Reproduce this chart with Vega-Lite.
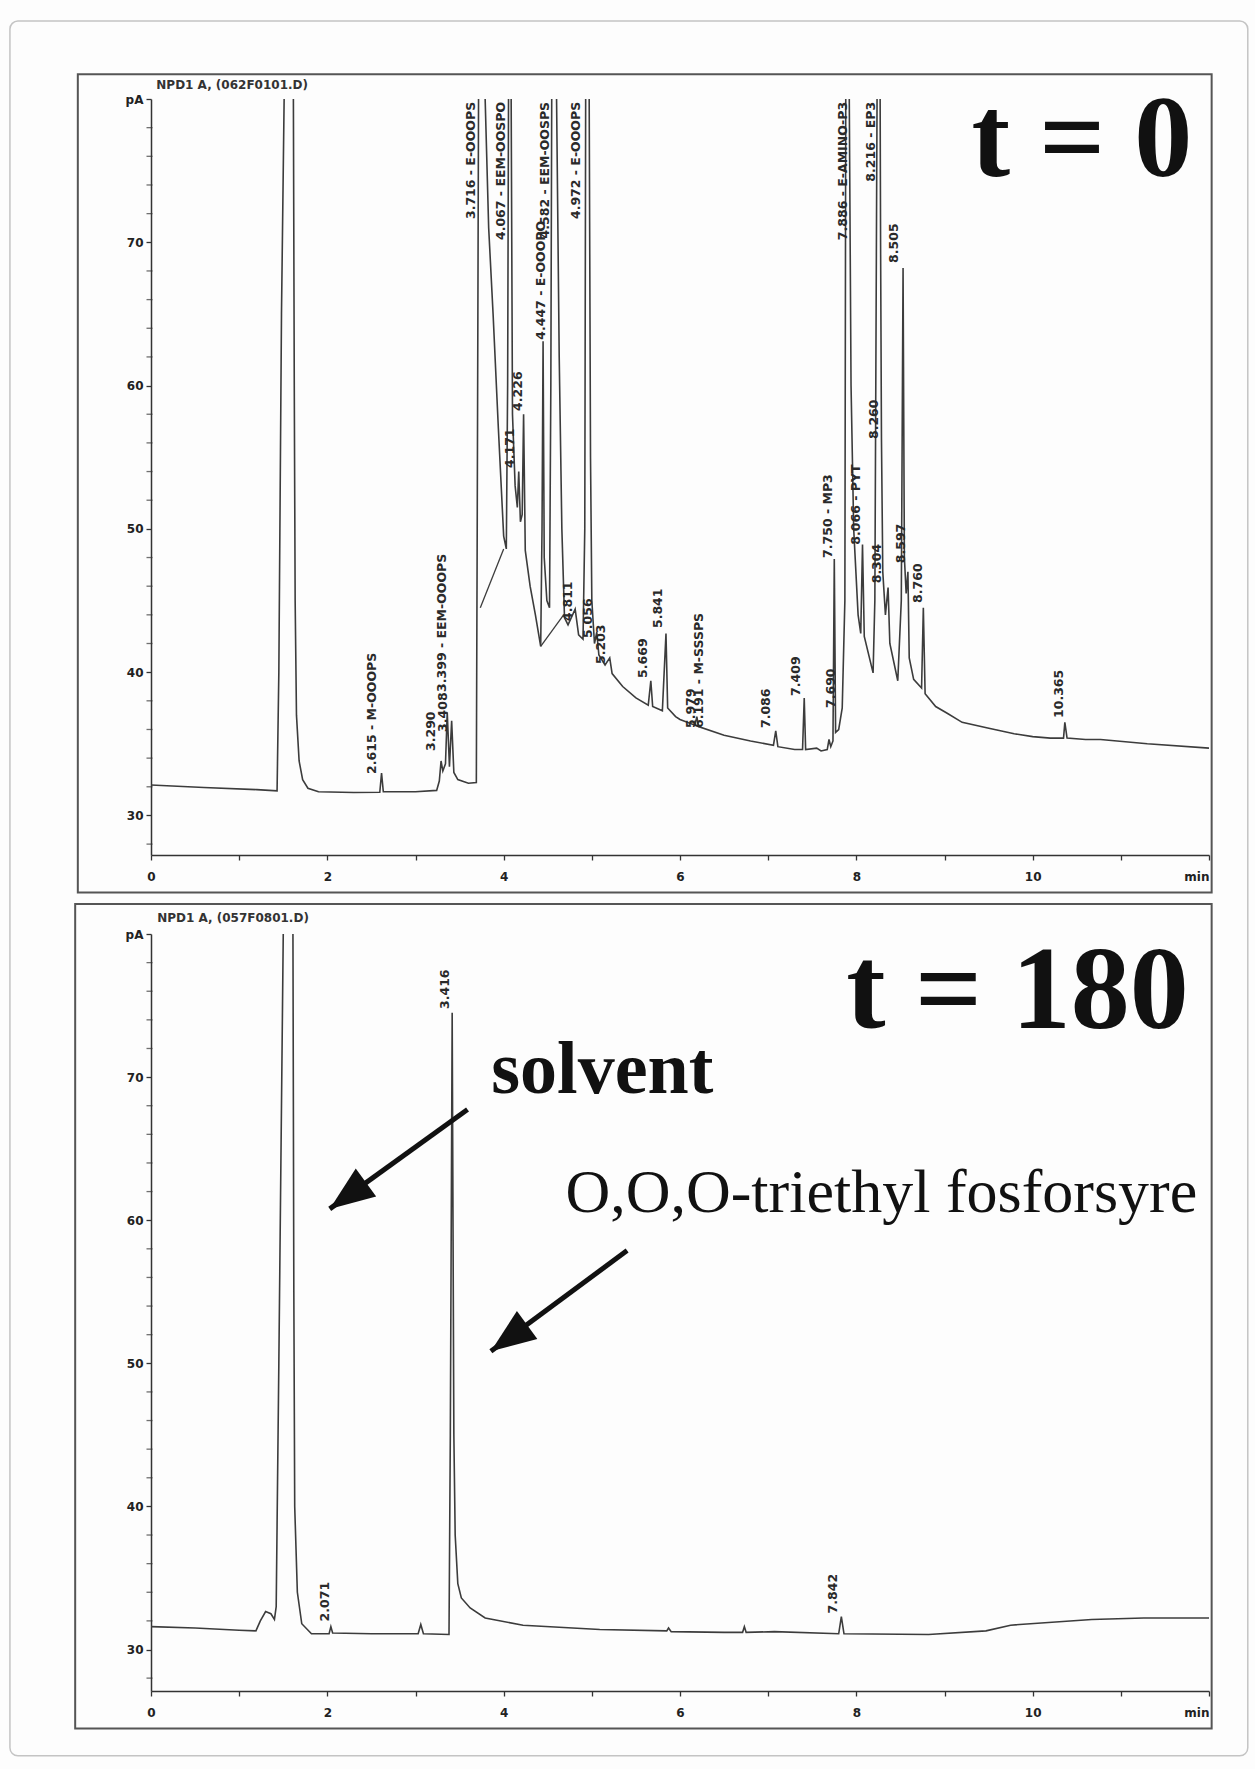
{
  "$schema": "https://vega.github.io/schema/vega-lite/v6.json",
  "background": "#fdfdfd",
  "padding": {"left": 9, "top": 20, "right": 8, "bottom": 12},
  "spacing": 79,
  "bounds": "flush",
  "datasets": {
    "one": [{}],
    "minorY": [{"m": 28}, {"m": 32}, {"m": 34}, {"m": 36}, {"m": 38}, {"m": 42}, {"m": 44}, {"m": 46}, {"m": 48}, {"m": 52}, {"m": 54}, {"m": 56}, {"m": 58}, {"m": 62}, {"m": 64}, {"m": 66}, {"m": 68}, {"m": 72}, {"m": 74}, {"m": 76}, {"m": 78}],
    "t0": [
      {"t": 0, "v": 32.13}, {"t": 0.6, "v": 31.95}, {"t": 1.2, "v": 31.8}, {"t": 1.43, "v": 31.72},
      {"t": 1.45, "v": 40}, {"t": 1.48, "v": 65}, {"t": 1.51, "v": 80}, {"t": 1.56, "v": 92},
      {"t": 1.615, "v": 80}, {"t": 1.625, "v": 60}, {"t": 1.635, "v": 45}, {"t": 1.65, "v": 37},
      {"t": 1.68, "v": 33.8}, {"t": 1.72, "v": 32.5}, {"t": 1.78, "v": 31.9}, {"t": 1.9, "v": 31.65},
      {"t": 2.3, "v": 31.6}, {"t": 2.595, "v": 31.62}, {"t": 2.615, "v": 32.95}, {"t": 2.635, "v": 31.65},
      {"t": 3.0, "v": 31.65}, {"t": 3.24, "v": 31.75}, {"t": 3.27, "v": 32.4}, {"t": 3.29, "v": 33.8},
      {"t": 3.31, "v": 33.1}, {"t": 3.34, "v": 33.6}, {"t": 3.36, "v": 37.2}, {"t": 3.385, "v": 33.4},
      {"t": 3.41, "v": 36.6}, {"t": 3.435, "v": 33.0}, {"t": 3.48, "v": 32.5}, {"t": 3.6, "v": 32.25},
      {"t": 3.69, "v": 32.3}, {"t": 3.7, "v": 50}, {"t": 3.715, "v": 80}, {"t": 3.75, "v": 95},
      {"t": 3.79, "v": 80}, {"t": 3.83, "v": 71}, {"t": 3.88, "v": 65}, {"t": 3.94, "v": 57},
      {"t": 4.0, "v": 49.5}, {"t": 4.03, "v": 48.6}, {"t": 4.045, "v": 60}, {"t": 4.055, "v": 80},
      {"t": 4.07, "v": 95}, {"t": 4.085, "v": 80}, {"t": 4.1, "v": 58}, {"t": 4.13, "v": 53},
      {"t": 4.155, "v": 51.5}, {"t": 4.171, "v": 54.0}, {"t": 4.19, "v": 50.5}, {"t": 4.21, "v": 51},
      {"t": 4.226, "v": 58.0}, {"t": 4.245, "v": 48.5}, {"t": 4.3, "v": 46}, {"t": 4.36, "v": 44},
      {"t": 4.42, "v": 41.8}, {"t": 4.435, "v": 50}, {"t": 4.447, "v": 63.1}, {"t": 4.46, "v": 48},
      {"t": 4.49, "v": 45}, {"t": 4.52, "v": 44.5}, {"t": 4.535, "v": 60}, {"t": 4.545, "v": 80},
      {"t": 4.58, "v": 95}, {"t": 4.6, "v": 80}, {"t": 4.63, "v": 62}, {"t": 4.66, "v": 50},
      {"t": 4.69, "v": 43.8}, {"t": 4.73, "v": 43.3}, {"t": 4.811, "v": 44.4}, {"t": 4.85, "v": 42.6},
      {"t": 4.9, "v": 42.3}, {"t": 4.92, "v": 50}, {"t": 4.93, "v": 80}, {"t": 4.95, "v": 95},
      {"t": 4.97, "v": 80}, {"t": 4.985, "v": 55}, {"t": 5.0, "v": 45}, {"t": 5.03, "v": 42.0},
      {"t": 5.056, "v": 42.8}, {"t": 5.08, "v": 41.2}, {"t": 5.15, "v": 40.5}, {"t": 5.203, "v": 41.0},
      {"t": 5.23, "v": 39.9}, {"t": 5.35, "v": 39.0}, {"t": 5.5, "v": 38.2}, {"t": 5.64, "v": 37.7},
      {"t": 5.669, "v": 39.4}, {"t": 5.69, "v": 37.6}, {"t": 5.8, "v": 37.3}, {"t": 5.841, "v": 42.7},
      {"t": 5.86, "v": 37.5}, {"t": 5.95, "v": 36.9}, {"t": 6.0, "v": 36.7}, {"t": 6.17, "v": 36.3},
      {"t": 6.191, "v": 36.9}, {"t": 6.21, "v": 36.2}, {"t": 6.5, "v": 35.6}, {"t": 6.8, "v": 35.2},
      {"t": 7.06, "v": 34.9}, {"t": 7.086, "v": 35.9}, {"t": 7.11, "v": 34.8}, {"t": 7.3, "v": 34.6},
      {"t": 7.39, "v": 34.6}, {"t": 7.409, "v": 38.2}, {"t": 7.425, "v": 34.6}, {"t": 7.55, "v": 34.7},
      {"t": 7.6, "v": 34.5}, {"t": 7.67, "v": 34.6}, {"t": 7.69, "v": 35.3}, {"t": 7.71, "v": 34.8},
      {"t": 7.735, "v": 35.2}, {"t": 7.75, "v": 47.9}, {"t": 7.765, "v": 35.8}, {"t": 7.8, "v": 36.0},
      {"t": 7.84, "v": 37.5}, {"t": 7.87, "v": 45}, {"t": 7.88, "v": 80}, {"t": 7.9, "v": 95},
      {"t": 7.92, "v": 80}, {"t": 7.94, "v": 60}, {"t": 7.97, "v": 50}, {"t": 8.02, "v": 44},
      {"t": 8.05, "v": 42.7}, {"t": 8.07, "v": 48.9}, {"t": 8.09, "v": 42.5}, {"t": 8.19, "v": 39.95},
      {"t": 8.21, "v": 45}, {"t": 8.235, "v": 80}, {"t": 8.25, "v": 95}, {"t": 8.27, "v": 80},
      {"t": 8.275, "v": 70}, {"t": 8.285, "v": 56.3}, {"t": 8.3, "v": 47}, {"t": 8.33, "v": 44},
      {"t": 8.36, "v": 45.9}, {"t": 8.38, "v": 42}, {"t": 8.47, "v": 39.4}, {"t": 8.51, "v": 45},
      {"t": 8.53, "v": 68.2}, {"t": 8.545, "v": 48}, {"t": 8.565, "v": 45.5}, {"t": 8.585, "v": 47.0},
      {"t": 8.6, "v": 41}, {"t": 8.65, "v": 39.5}, {"t": 8.74, "v": 38.9}, {"t": 8.76, "v": 44.5},
      {"t": 8.78, "v": 38.5}, {"t": 8.9, "v": 37.6}, {"t": 9.04, "v": 37.1}, {"t": 9.2, "v": 36.5},
      {"t": 9.49, "v": 36.1}, {"t": 9.79, "v": 35.7}, {"t": 10.0, "v": 35.5}, {"t": 10.2, "v": 35.4},
      {"t": 10.35, "v": 35.4}, {"t": 10.365, "v": 36.5}, {"t": 10.39, "v": 35.4}, {"t": 10.6, "v": 35.3},
      {"t": 10.77, "v": 35.3}, {"t": 11.3, "v": 35.0}, {"t": 12.0, "v": 34.7}
    ],
    "t0base": [
      {"t1": 3.735, "v1": 44.5, "t2": 4.0, "v2": 48.6},
      {"t1": 4.42, "v1": 41.8, "t2": 4.68, "v2": 44.0}
    ],
    "t0lab": [
      {"lx": 2.507, "ly": 32.9, "lab": "2.615 - M-OOOPS", "pos": "up"},
      {"lx": 3.176, "ly": 34.5, "lab": "3.290", "pos": "up"},
      {"lx": 3.312, "ly": 35.83, "lab": "3.408", "pos": "up"},
      {"lx": 3.3, "ly": 38.62, "lab": "3.399 - EEM-OOOPS", "pos": "up"},
      {"lx": 3.63, "ly": 79.8, "lab": "3.716 - E-OOOPS", "pos": "top"},
      {"lx": 3.97, "ly": 79.8, "lab": "4.067 - EEM-OOSPO", "pos": "top"},
      {"lx": 4.42, "ly": 63.2, "lab": "4.447 - E-OOOPO", "pos": "up"},
      {"lx": 4.47, "ly": 79.8, "lab": "4.582 - EEM-OOSPS", "pos": "top"},
      {"lx": 4.82, "ly": 79.8, "lab": "4.972 - E-OOOPS", "pos": "top"},
      {"lx": 4.07, "ly": 54.25, "lab": "4.171", "pos": "up"},
      {"lx": 4.16, "ly": 58.23, "lab": "4.226", "pos": "up"},
      {"lx": 4.73, "ly": 43.57, "lab": "4.811", "pos": "up"},
      {"lx": 4.96, "ly": 42.39, "lab": "5.056", "pos": "up"},
      {"lx": 5.1, "ly": 40.57, "lab": "5.203", "pos": "up"},
      {"lx": 5.58, "ly": 39.6, "lab": "5.669", "pos": "up"},
      {"lx": 5.75, "ly": 43.08, "lab": "5.841", "pos": "up"},
      {"lx": 6.13, "ly": 36.1, "lab": "5.979", "pos": "up"},
      {"lx": 6.21, "ly": 36.1, "lab": "6.191 - M-SSSPS", "pos": "up"},
      {"lx": 6.97, "ly": 36.1, "lab": "7.086", "pos": "up"},
      {"lx": 7.32, "ly": 38.34, "lab": "7.409", "pos": "up"},
      {"lx": 7.71, "ly": 37.5, "lab": "7.690", "pos": "up"},
      {"lx": 7.68, "ly": 47.97, "lab": "7.750 - MP3", "pos": "up"},
      {"lx": 7.85, "ly": 79.8, "lab": "7.886 - E-AMINO-P3", "pos": "top"},
      {"lx": 8.17, "ly": 79.8, "lab": "8.216 - EP3", "pos": "top"},
      {"lx": 8.43, "ly": 68.56, "lab": "8.505", "pos": "up"},
      {"lx": 8.2, "ly": 56.27, "lab": "8.260", "pos": "up"},
      {"lx": 8.0, "ly": 48.9, "lab": "8.066 - PYT", "pos": "up"},
      {"lx": 8.24, "ly": 46.2, "lab": "8.304", "pos": "up"},
      {"lx": 8.51, "ly": 47.6, "lab": "8.597", "pos": "up"},
      {"lx": 8.7, "ly": 44.83, "lab": "8.760", "pos": "up"},
      {"lx": 10.3, "ly": 36.8, "lab": "10.365", "pos": "up"}
    ],
    "t180": [
      {"t": 0, "v": 31.6}, {"t": 0.5, "v": 31.5}, {"t": 1.0, "v": 31.35}, {"t": 1.19, "v": 31.3},
      {"t": 1.24, "v": 32.0}, {"t": 1.3, "v": 32.65}, {"t": 1.36, "v": 32.5}, {"t": 1.4, "v": 32.1},
      {"t": 1.42, "v": 33}, {"t": 1.45, "v": 50}, {"t": 1.5, "v": 80}, {"t": 1.555, "v": 92},
      {"t": 1.61, "v": 80}, {"t": 1.62, "v": 55}, {"t": 1.63, "v": 40}, {"t": 1.66, "v": 34},
      {"t": 1.71, "v": 31.8}, {"t": 1.82, "v": 31.1}, {"t": 2.02, "v": 31.1}, {"t": 2.04, "v": 31.6},
      {"t": 2.06, "v": 31.15}, {"t": 2.5, "v": 31.1}, {"t": 3.03, "v": 31.1}, {"t": 3.06, "v": 31.75},
      {"t": 3.09, "v": 31.1}, {"t": 3.38, "v": 31.05}, {"t": 3.395, "v": 45}, {"t": 3.416, "v": 74.5},
      {"t": 3.435, "v": 45}, {"t": 3.45, "v": 38}, {"t": 3.48, "v": 34.6}, {"t": 3.52, "v": 33.6},
      {"t": 3.62, "v": 32.9}, {"t": 3.79, "v": 32.2}, {"t": 4.22, "v": 31.7}, {"t": 5.09, "v": 31.4},
      {"t": 5.85, "v": 31.3}, {"t": 5.87, "v": 31.5}, {"t": 5.9, "v": 31.25}, {"t": 6.5, "v": 31.2},
      {"t": 6.71, "v": 31.2}, {"t": 6.73, "v": 31.6}, {"t": 6.75, "v": 31.2}, {"t": 7.07, "v": 31.25},
      {"t": 7.8, "v": 31.1}, {"t": 7.83, "v": 32.3}, {"t": 7.86, "v": 31.1}, {"t": 8.82, "v": 31.05},
      {"t": 9.47, "v": 31.3}, {"t": 9.75, "v": 31.7}, {"t": 10.67, "v": 32.1}, {"t": 11.26, "v": 32.2},
      {"t": 12.0, "v": 32.2}
    ],
    "t180lab": [
      {"lx": 3.33, "ly": 74.76, "lab": "3.416"},
      {"lx": 1.97, "ly": 31.96, "lab": "2.071"},
      {"lx": 7.74, "ly": 32.52, "lab": "7.842"}
    ],
    "arrows": [
      {"name": "solvent", "x1": 3.59, "y1": 67.74, "x2": 2.027, "y2": 60.79},
      {"name": "O,O,O-triethyl fosforsyre", "x1": 5.4, "y1": 57.88, "x2": 3.855, "y2": 50.84}
    ]
  },
  "vconcat": [
    {
      "width": 1058,
      "height": 756,
      "layer": [
        {
          "data": {"name": "one"},
          "mark": {"type": "rect", "fillOpacity": 0, "stroke": "#c4c4c4", "strokeWidth": 1.5, "cornerRadius": 8},
          "encoding": {
            "x": {"datum": -1.6, "type": "quantitative"},
            "x2": {"datum": 12.44},
            "y": {"datum": 85.44, "type": "quantitative"},
            "y2": {"datum": -35.63}
          }
        },
        {
          "data": {"name": "one"},
          "mark": {"type": "rect", "fillOpacity": 0, "stroke": "#555", "strokeWidth": 2},
          "encoding": {
            "x": {"datum": -0.83, "type": "quantitative"},
            "x2": {"datum": 12.03},
            "y": {"datum": 81.72, "type": "quantitative"},
            "y2": {"datum": 24.63}
          }
        },
        {
          "data": {"name": "one"},
          "mark": {"type": "text", "align": "left", "baseline": "middle", "font": "DejaVu Sans", "fontWeight": "bold", "fontSize": 12, "color": "#333"},
          "encoding": {
            "x": {"datum": 0.06, "type": "quantitative"},
            "y": {"datum": 80.98, "type": "quantitative"},
            "text": {"value": "NPD1 A, (062F0101.D)"}
          }
        },
        {
          "data": {"name": "t0"},
          "mark": {"type": "line", "clip": true, "color": "#3c3c3c", "strokeWidth": 1.6},
          "encoding": {
            "x": {"field": "t", "type": "quantitative", "title": null,
              "scale": {"domain": [0, 12], "nice": false, "zero": false},
              "axis": {"values": [0,0.5,1,1.5,2,2.5,3,3.5,4,4.5,5,5.5,6,6.5,7,7.5,8,8.5,9,9.5,10,10.5,11,11.5,12],
                "format": "d", "labelOverlap": false,
                "labelExpr": "datum.value == 12 ? 'min' : (datum.value % 2 == 0 ? datum.label : '')",
                "labelAlign": {"expr": "datum.value == 12 ? 'right' : 'center'"}}},
            "y": {"field": "v", "type": "quantitative", "title": null,
              "scale": {"domain": [27.24, 80], "nice": false, "zero": false},
              "axis": {"values": [30, 40, 50, 60, 70, 80], "format": "d", "labelOverlap": false,
                "labelExpr": "datum.value == 80 ? 'pA' : datum.label"}}
          }
        },
        {
          "data": {"name": "minorY"},
          "mark": {"type": "tick", "orient": "horizontal", "size": 6, "thickness": 1.3, "color": "#333", "xOffset": -1.5},
          "encoding": {
            "x": {"datum": 0, "type": "quantitative"},
            "y": {"field": "m", "type": "quantitative", "title": null}
          }
        },
        {
          "data": {"name": "t0base"},
          "mark": {"type": "rule", "color": "#3c3c3c", "strokeWidth": 1.3},
          "encoding": {
            "x": {"field": "t1", "type": "quantitative", "title": null},
            "y": {"field": "v1", "type": "quantitative", "title": null},
            "x2": {"field": "t2"},
            "y2": {"field": "v2"}
          }
        },
        {
          "data": {"name": "t0lab"},
          "transform": [{"filter": "datum.pos == 'up'"}],
          "mark": {"type": "text", "angle": 270, "align": "left", "baseline": "middle", "font": "DejaVu Sans", "fontWeight": "bold", "fontSize": 12.5, "color": "#2a2a2a"},
          "encoding": {
            "x": {"field": "lx", "type": "quantitative", "title": null},
            "y": {"field": "ly", "type": "quantitative", "title": null},
            "text": {"field": "lab"}
          }
        },
        {
          "data": {"name": "t0lab"},
          "transform": [{"filter": "datum.pos == 'top'"}],
          "mark": {"type": "text", "angle": 270, "align": "right", "baseline": "middle", "font": "DejaVu Sans", "fontWeight": "bold", "fontSize": 12.5, "color": "#2a2a2a"},
          "encoding": {
            "x": {"field": "lx", "type": "quantitative", "title": null},
            "y": {"field": "ly", "type": "quantitative", "title": null},
            "text": {"field": "lab"}
          }
        },
        {
          "data": {"name": "one"},
          "mark": {"type": "text", "align": "right", "baseline": "alphabetic", "font": "Liberation Serif", "fontWeight": "bold", "fontSize": 116, "color": "#111"},
          "encoding": {
            "x": {"datum": 11.81, "type": "quantitative"},
            "y": {"datum": 74.63, "type": "quantitative"},
            "text": {"value": "t = 0"}
          }
        }
      ]
    },
    {
      "width": 1058,
      "height": 757,
      "layer": [
        {
          "data": {"name": "one"},
          "mark": {"type": "rect", "fillOpacity": 0, "stroke": "#555", "strokeWidth": 2},
          "encoding": {
            "x": {"datum": -0.86, "type": "quantitative"},
            "x2": {"datum": 12.03},
            "y": {"datum": 82.1, "type": "quantitative"},
            "y2": {"datum": 24.48}
          }
        },
        {
          "data": {"name": "one"},
          "mark": {"type": "text", "align": "left", "baseline": "middle", "font": "DejaVu Sans", "fontWeight": "bold", "fontSize": 12, "color": "#333"},
          "encoding": {
            "x": {"datum": 0.07, "type": "quantitative"},
            "y": {"datum": 81.12, "type": "quantitative"},
            "text": {"value": "NPD1 A, (057F0801.D)"}
          }
        },
        {
          "data": {"name": "t180"},
          "mark": {"type": "line", "clip": true, "color": "#3c3c3c", "strokeWidth": 1.6},
          "encoding": {
            "x": {"field": "t", "type": "quantitative", "title": null,
              "scale": {"domain": [0, 12], "nice": false, "zero": false},
              "axis": {"values": [0,0.5,1,1.5,2,2.5,3,3.5,4,4.5,5,5.5,6,6.5,7,7.5,8,8.5,9,9.5,10,10.5,11,11.5,12],
                "format": "d", "labelOverlap": false,
                "labelExpr": "datum.value == 12 ? 'min' : (datum.value % 2 == 0 ? datum.label : '')",
                "labelAlign": {"expr": "datum.value == 12 ? 'right' : 'center'"}}},
            "y": {"field": "v", "type": "quantitative", "title": null,
              "scale": {"domain": [27.1, 80], "nice": false, "zero": false},
              "axis": {"values": [30, 40, 50, 60, 70, 80], "format": "d", "labelOverlap": false,
                "labelExpr": "datum.value == 80 ? 'pA' : datum.label"}}
          }
        },
        {
          "data": {"name": "minorY"},
          "mark": {"type": "tick", "orient": "horizontal", "size": 6, "thickness": 1.3, "color": "#333", "xOffset": -1.5},
          "encoding": {
            "x": {"datum": 0, "type": "quantitative"},
            "y": {"field": "m", "type": "quantitative", "title": null}
          }
        },
        {
          "data": {"name": "t180lab"},
          "mark": {"type": "text", "angle": 270, "align": "left", "baseline": "middle", "font": "DejaVu Sans", "fontWeight": "bold", "fontSize": 12.5, "color": "#2a2a2a"},
          "encoding": {
            "x": {"field": "lx", "type": "quantitative", "title": null},
            "y": {"field": "ly", "type": "quantitative", "title": null},
            "text": {"field": "lab"}
          }
        },
        {
          "data": {"name": "arrows"},
          "mark": {"type": "rule", "color": "#111", "strokeWidth": 5},
          "encoding": {
            "x": {"field": "x1", "type": "quantitative", "title": null},
            "y": {"field": "y1", "type": "quantitative", "title": null},
            "x2": {"field": "x2"},
            "y2": {"field": "y2"}
          }
        },
        {
          "data": {"name": "arrows"},
          "mark": {"type": "point", "filled": true, "color": "#111", "opacity": 1, "size": 3136, "angle": 234,
            "shape": "M0,0L0.62,1.6L-0.62,1.6Z"},
          "encoding": {
            "x": {"field": "x2", "type": "quantitative", "title": null},
            "y": {"field": "y2", "type": "quantitative", "title": null}
          }
        },
        {
          "data": {"name": "one"},
          "mark": {"type": "text", "align": "right", "baseline": "alphabetic", "font": "Liberation Serif", "fontWeight": "bold", "fontSize": 118, "color": "#111"},
          "encoding": {
            "x": {"datum": 11.77, "type": "quantitative"},
            "y": {"datum": 73.4, "type": "quantitative"},
            "text": {"value": "t = 180"}
          }
        },
        {
          "data": {"name": "one"},
          "mark": {"type": "text", "align": "left", "baseline": "alphabetic", "font": "Liberation Serif", "fontWeight": "bold", "fontSize": 74, "color": "#111"},
          "encoding": {
            "x": {"datum": 3.86, "type": "quantitative"},
            "y": {"datum": 68.88, "type": "quantitative"},
            "text": {"value": "solvent"}
          }
        },
        {
          "data": {"name": "one"},
          "mark": {"type": "text", "align": "left", "baseline": "alphabetic", "font": "Liberation Serif", "fontSize": 62, "color": "#111"},
          "encoding": {
            "x": {"datum": 4.7, "type": "quantitative"},
            "y": {"datum": 60.56, "type": "quantitative"},
            "text": {"value": "O,O,O-triethyl fosforsyre"}
          }
        }
      ]
    }
  ],
  "config": {
    "view": {"stroke": null},
    "axis": {
      "grid": false,
      "domainColor": "#333", "domainWidth": 1.5,
      "tickColor": "#333", "tickWidth": 1.3, "tickSize": 5,
      "labelFont": "DejaVu Sans", "labelFontSize": 12, "labelFontWeight": "bold", "labelColor": "#222",
      "labelOverlap": false, "labelBound": false, "labelFlush": false
    },
    "axisX": {"labelPadding": 11},
    "axisY": {"labelPadding": 3}
  }
}
